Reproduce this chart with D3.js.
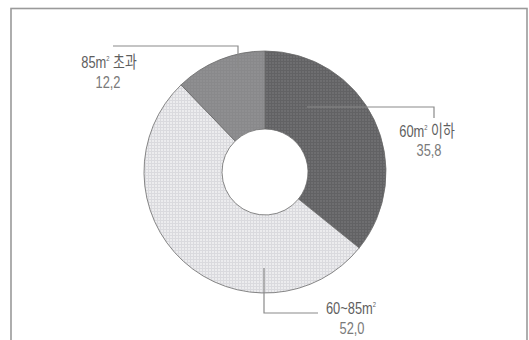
<!DOCTYPE html>
<html>
<head>
<meta charset="utf-8">
<script src="https://cdn.jsdelivr.net/npm/d3@7"></script>
<style>
  html, body { margin: 0; padding: 0; background: #fff; }
  svg { display: block; }
  text { font-family: "Liberation Sans Narrow", "Liberation Sans", "Noto Sans CJK KR", sans-serif; }
</style>
</head>
<body>
<svg id="chart" width="529" height="340"></svg>
<script>
// Housing area shares (%)
const categories = ["60m² 이하", "60~85m²", "85m² 초과"];
const values = [35.8, 52.0, 12.2];
const valueLabels = ["35,8", "52,0", "12,2"];

const W = 529, H = 340;
const cx = 265, cy = 172, outerR = 121, innerR = 43;

const svg = d3.select("#chart");

// frame
svg.append("rect").attr("x", 11).attr("y", 8.5).attr("width", 516).attr("height", 340)
  .attr("fill", "none").attr("stroke", "#9a9a9a").attr("stroke-width", 1.6);

// fine grid textures for the slices
const defs = svg.append("defs");
function gridPattern(id, bg, line, step) {
  const p = defs.append("pattern").attr("id", id).attr("patternUnits", "userSpaceOnUse")
    .attr("width", step).attr("height", step);
  p.append("rect").attr("width", step).attr("height", step).attr("fill", bg);
  p.append("path").attr("d", `M0,0.5H${step}M0.5,0V${step}`)
    .attr("stroke", line).attr("stroke-width", 1).attr("fill", "none");
}
gridPattern("gDark", "#6e6e70", "#626264", 3);
gridPattern("gLight", "#ececee", "#dadade", 3);
gridPattern("gMid", "#8f8f91", "#89898b", 3);
const fills = ["url(#gDark)", "url(#gLight)", "url(#gMid)"];

const pie = d3.pie().sort(null).value(d => d)(values);
const arc = d3.arc().innerRadius(innerR).outerRadius(outerR);

const g = svg.append("g").attr("transform", `translate(${cx},${cy})`);
g.selectAll("path.slice").data(pie).join("path")
  .attr("class", "slice")
  .attr("d", arc)
  .attr("fill", (d, i) => fills[i])
  .attr("stroke", "#6a6a6a")
  .attr("stroke-width", 0.8);

// leader lines (relative to center)
const leaders = [
  [[42, -65], [169, -65], [169, -54]],
  [[-1, 96], [-1, 141], [53, 141]],
  [[-27, -104], [-27, -126], [-152, -126]]
];
const line = d3.line();
g.selectAll("path.leader").data(leaders).join("path")
  .attr("class", "leader")
  .attr("d", line)
  .attr("fill", "none")
  .attr("stroke", "#8a8a8a")
  .attr("stroke-width", 1.2);

// labels, horizontally condensed
const labelPos = [[427, 137, 429, 156], [351, 314, 352, 334], [109, 68, 108, 88]];
const sx = 0.78;
categories.forEach((c, i) => {
  const [x1, y1, x2, y2] = labelPos[i];
  const t = svg.append("text")
    .attr("transform", `translate(${x1},${y1}) scale(${sx},1)`)
    .attr("text-anchor", "middle").attr("fill", "#5e5e5e").attr("font-size", 16.5);
  const parts = c.split("²");
  t.append("tspan").text(parts[0]);
  t.append("tspan").text("2").attr("font-size", 7.5).attr("dy", -7);
  t.append("tspan").text(parts[1]).attr("dy", 7);
  svg.append("text")
    .attr("transform", `translate(${x2},${y2}) scale(${sx},1)`)
    .attr("text-anchor", "middle").attr("fill", "#7a7a7a").attr("font-size", 16.5)
    .text(valueLabels[i]);
});
</script>
</body>
</html>
